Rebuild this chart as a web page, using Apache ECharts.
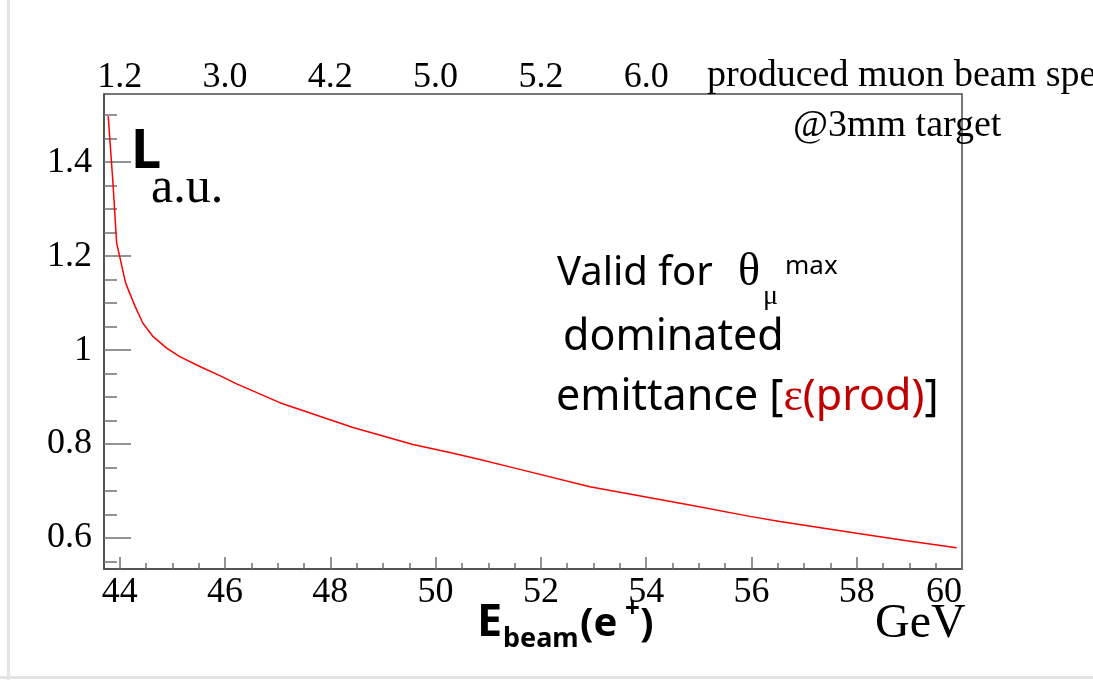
<!DOCTYPE html>
<html>
<head>
<meta charset="utf-8">
<script src="https://cdn.jsdelivr.net/npm/echarts@6/dist/echarts.min.js"></script>
<style>
  html, body { margin: 0; padding: 0; background: #ffffff; }
  #chart { width: 1093px; height: 680px; }
</style>
</head>
<body>
<div id="chart"></div>
<script>
// Beam energy (GeV) and relative luminosity (a.u.) along the curve
const energy = [43.78, 43.87, 43.94, 44.11, 44.29, 44.44, 44.63, 44.89, 45.14, 45.52,
                45.89, 46.22, 47.04, 48.43, 49.57, 50.27, 50.84, 51.60, 52.93, 54.83,
                55.97, 56.54, 58.00, 58.95, 59.90];
const lumi   = [1.498, 1.356, 1.228, 1.143, 1.093, 1.057, 1.029, 1.004, 0.986, 0.965,
                0.946, 0.928, 0.888, 0.835, 0.799, 0.782, 0.767, 0.746, 0.709, 0.670,
                0.646, 0.635, 0.610, 0.594, 0.579];

// Bottom axis ticks and the matching top-axis labels
const xMajor = [44, 46, 48, 50, 52, 54, 56, 58, 60];
const xMinor = [44.5, 45, 45.5, 46.5, 47, 47.5, 48.5, 49, 49.5, 50.5, 51, 51.5,
                52.5, 53, 53.5, 54.5, 55, 55.5, 56.5, 57, 57.5, 58.5, 59, 59.5];
const topTicks  = [44, 46, 48, 50, 52, 54];
const topLabels = ['1.2', '3.0', '4.2', '5.0', '5.2', '6.0'];

// Left axis ticks
const yMajor = [0.6, 0.8, 1.0, 1.2, 1.4];
const yMinor = [0.55, 0.65, 0.7, 0.75, 0.85, 0.9, 0.95, 1.05, 1.1, 1.15,
                1.25, 1.3, 1.35, 1.45, 1.5];

const X_MIN = 43.7, X_MAX = 60, Y_MIN = 0.534, Y_MAX = 1.545;

const serif = '"Liberation Serif", "Times New Roman", serif';
const sans = '"Noto Sans", "Open Sans", sans-serif';
const frameColor = '#4a4a4a';
const tickColor = '#707070';

const chart = echarts.init(document.getElementById('chart'), null, { renderer: 'canvas' });

const txt = (x, y, text, font, fill) => ({
  type: 'text', x: x, y: y, z: 10,
  style: { text: text, font: font, fill: fill || '#000', textAlign: 'left', textVerticalAlign: 'middle' }
});

chart.setOption({
  animation: false,
  backgroundColor: '#ffffff',
  grid: {
    left: 104, top: 94, width: 858, height: 475,
    show: true, borderColor: frameColor, borderWidth: 1.5, backgroundColor: 'transparent'
  },
  xAxis: [
    {
      type: 'value', min: X_MIN, max: X_MAX, position: 'bottom',
      axisLine: { show: true, lineStyle: { color: frameColor, width: 1.5 } },
      axisTick: { show: true, inside: true, length: 12, customValues: xMajor,
                  lineStyle: { color: tickColor, width: 1.5 } },
      axisLabel: { show: true, customValues: xMajor, margin: 6, color: '#000',
                   fontFamily: serif, fontSize: 36, alignMaxLabel: 'right' },
      splitLine: { show: false }
    },
    {
      type: 'value', min: X_MIN, max: X_MAX, position: 'bottom',
      axisLine: { show: false },
      axisTick: { show: true, inside: true, length: 6, customValues: xMinor,
                  lineStyle: { color: tickColor, width: 1.5 } },
      axisLabel: { show: false },
      splitLine: { show: false }
    },
    {
      type: 'value', min: X_MIN, max: X_MAX, position: 'top',
      axisLine: { show: false },
      axisTick: { show: false },
      axisLabel: { show: true, customValues: topTicks, margin: -2, color: '#000',
                   fontFamily: serif, fontSize: 36,
                   formatter: v => topLabels[topTicks.indexOf(Math.round(v))] },
      splitLine: { show: false }
    }
  ],
  yAxis: [
    {
      type: 'value', min: Y_MIN, max: Y_MAX, position: 'left',
      axisLine: { show: true, lineStyle: { color: frameColor, width: 1.5 } },
      axisTick: { show: true, inside: true, length: 27, customValues: yMajor,
                  lineStyle: { color: tickColor, width: 1.5 } },
      axisLabel: { show: true, customValues: yMajor, margin: 12, color: '#000',
                   fontFamily: serif, fontSize: 36,
                   formatter: v => (Math.abs(v - 1) < 1e-6 ? '1' : v.toFixed(1)) },
      splitLine: { show: false }
    },
    {
      type: 'value', min: Y_MIN, max: Y_MAX, position: 'left',
      axisLine: { show: false },
      axisTick: { show: true, inside: true, length: 13, customValues: yMinor,
                  lineStyle: { color: tickColor, width: 1.5 } },
      axisLabel: { show: false },
      splitLine: { show: false }
    }
  ],
  series: [
    {
      type: 'line',
      xAxisIndex: 0, yAxisIndex: 0,
      data: energy.map((e, i) => [e, lumi[i]]),
      showSymbol: false, smooth: false,
      lineStyle: { color: '#ff0000', width: 1.5 },
      clip: true, z: 5
    }
  ],
  graphic: [
    // light page border
    { type: 'rect', shape: { x: 7, y: 0, width: 3, height: 680 }, style: { fill: '#e4e4e4' }, z: 0 },
    { type: 'rect', shape: { x: 0, y: 676, width: 1093, height: 3 }, style: { fill: '#e4e4e4' }, z: 0 },

    // top axis caption
    txt(707, 76, 'produced muon beam spectrum', '38px ' + serif),
    txt(793, 126, '@3mm target', '38px ' + serif),

    // y axis title
    txt(131, 153, 'L', 'bold 54px ' + sans),
    txt(151, 189, 'a.u.', '50px ' + serif),

    // annotation
    txt(557, 274, 'Valid for ', '40px ' + sans),
    txt(738, 273, 'θ', '46px ' + serif),
    txt(763, 297, 'μ', '28px ' + serif),
    txt(785, 267, 'max', '26px ' + sans),
    txt(563, 338, 'dominated', '43px ' + sans),
    {
      type: 'text', x: 556, y: 398, z: 10,
      style: {
        text: '{b|emittance [}{e|ε}{r|(prod)}{b|]}',
        textAlign: 'left', textVerticalAlign: 'middle',
        rich: {
          b: { font: '43px ' + sans, fill: '#000' },
          e: { font: '46px ' + serif, fill: '#c00000' },
          r: { font: '43px ' + sans, fill: '#c00000' }
        }
      }
    },

    // x axis title
    txt(477, 623, 'E', 'bold 45px ' + sans),
    txt(503, 639, 'beam', 'bold 27px ' + sans),
    txt(580, 625, '(e', 'bold 40px ' + sans),
    txt(625, 610, '+', 'bold 26px ' + sans),
    txt(640, 625, ')', 'bold 40px ' + sans),
    txt(875, 624, 'GeV', '48px ' + serif)
  ]
});
</script>
</body>
</html>
